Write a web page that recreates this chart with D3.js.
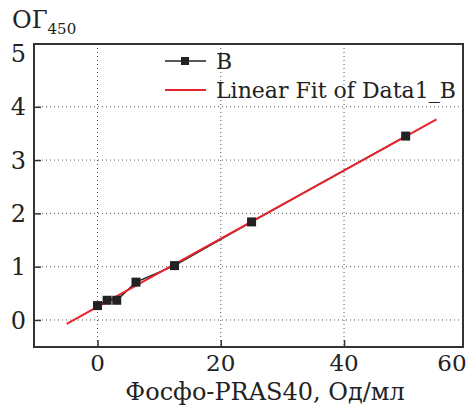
<!DOCTYPE html>
<html><head><meta charset="utf-8">
<script src="https://cdn.jsdelivr.net/npm/d3@7"></script>
<style>body{margin:0;background:#fff}svg{display:block}text{font-family:"DejaVu Serif",serif;fill:#222}</style>
</head><body><svg id="c" width="467" height="406"></svg>
<script>
const xValues = [0, 1.5625, 3.125, 6.25, 12.5, 25, 50];
const yValues = [0.27, 0.37, 0.37, 0.71, 1.02, 1.84, 3.45];
const fitRange = [-5, 55];
const xTicks = [0, 20, 40, 60];
const yTicks = [0, 1, 2, 3, 4, 5];
const legendLabels = ["B", "Linear Fit of Data1_B"];

const svg = d3.select("#c");
const L = 34, R = 463, T = 44, B = 347;
const x = d3.scaleLinear().domain([-10.3, 59.3]).range([L, R]);
const y = d3.scaleLinear().domain([-0.507, 5.178]).range([B, T]);

// grid
const g = svg.append("g");
g.selectAll(".gx").data(xTicks.filter(t => x(t) < R - 2)).join("line")
  .attr("x1", d => x(d)).attr("x2", d => x(d)).attr("y1", T).attr("y2", B)
  .attr("stroke", "#555").attr("stroke-width", 1).attr("stroke-dasharray", "1,3");
g.selectAll(".gy").data(yTicks.filter(t => y(t) > T + 12)).join("line")
  .attr("x1", L).attr("x2", R).attr("y1", d => y(d)).attr("y2", d => y(d))
  .attr("stroke", "#555").attr("stroke-width", 1).attr("stroke-dasharray", "1,3");

// axes with inward ticks
const xAxis = d3.axisBottom(x).tickValues(xTicks.filter(t => x(t) < R - 2)).tickSize(-7).tickFormat("");
svg.append("g").attr("transform", `translate(0,${B})`).call(xAxis)
  .call(a => a.select(".domain").remove())
  .call(a => a.selectAll("line").attr("stroke", "#333").attr("stroke-width", 1.5));
const yAxis = d3.axisLeft(y).tickValues(yTicks.filter(t => y(t) > T + 12)).tickSize(-7).tickFormat("");
svg.append("g").attr("transform", `translate(${L},0)`).call(yAxis)
  .call(a => a.select(".domain").remove())
  .call(a => a.selectAll("line").attr("stroke", "#333").attr("stroke-width", 1.5));

// tick labels
svg.selectAll(".xl").data(xTicks).join("text")
  .attr("x", d => Math.min(x(d), R - 11)).attr("y", 371)
  .attr("text-anchor", "middle").attr("font-size", 23).text(d => d);
svg.selectAll(".yl").data(yTicks).join("text")
  .attr("x", 26).attr("y", d => y(d)).attr("dy", "0.36em")
  .attr("text-anchor", "end").attr("font-size", 24).text(d => d);

// axis titles
svg.append("text").attr("x", 265).attr("y", 400).attr("text-anchor", "middle")
  .attr("font-size", 24).text("Фосфо-PRAS40, Од/мл");
const yt = svg.append("text").attr("x", 12).attr("y", 28).attr("font-size", 24);
yt.append("tspan").text("ОГ");
yt.append("tspan").attr("font-size", 15).attr("dy", 6).text("450");

// fit line
const mx = d3.mean(xValues), my = d3.mean(yValues);
const slope = d3.sum(xValues, (v, i) => (v - mx) * (yValues[i] - my)) / d3.sum(xValues, v => (v - mx) ** 2);
const icpt = my - slope * mx;

// data line
svg.append("path").datum(xValues.map((v, i) => [v, yValues[i]]))
  .attr("d", d3.line().x(d => x(d[0])).y(d => y(d[1])))
  .attr("fill", "none").attr("stroke", "#222").attr("stroke-width", 1.5);
svg.append("path").datum(fitRange.map(v => [v, icpt + slope * v]))
  .attr("d", d3.line().x(d => x(d[0])).y(d => y(d[1])))
  .attr("fill", "none").attr("stroke", "#e8232b").attr("stroke-width", 2);
svg.selectAll(".pt").data(xValues.map((v, i) => [v, yValues[i]])).join("rect")
  .attr("x", d => x(d[0]) - 4.5).attr("y", d => y(d[1]) - 4.5)
  .attr("width", 9).attr("height", 9).attr("fill", "#222");

// legend
const lg = svg.append("g");
lg.append("line").attr("x1", 165).attr("x2", 206).attr("y1", 61).attr("y2", 61).attr("stroke", "#222").attr("stroke-width", 1.5);
lg.append("rect").attr("x", 181).attr("y", 57).attr("width", 8).attr("height", 8).attr("fill", "#222");
lg.append("line").attr("x1", 165).attr("x2", 206).attr("y1", 90).attr("y2", 90).attr("stroke", "#e8232b").attr("stroke-width", 2);
lg.selectAll(".lt").data(legendLabels).join("text")
  .attr("x", 216).attr("y", (d, i) => 61 + i * 29).attr("dy", "0.36em")
  .attr("font-size", 22).text(d => d);

// frame
svg.append("rect").attr("x", L).attr("y", T).attr("width", R - L).attr("height", B - T)
  .attr("fill", "none").attr("stroke", "#333").attr("stroke-width", 2);
</script></body></html>
